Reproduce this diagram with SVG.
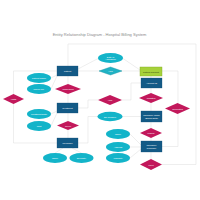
<svg xmlns="http://www.w3.org/2000/svg" width="200" height="200" viewBox="0 0 200 200">
<style>
.ent rect{fill:#135a86;stroke:#0e4a70;stroke-width:0.3}
.att ellipse{fill:#13b4c9}
.rel polygon{fill:#c2185b}
text{font-family:"Liberation Sans",Arial,sans-serif;font-size:2.3px;fill:#ffffff;text-anchor:middle;dominant-baseline:central}
.title{font-size:4px;fill:#8a8a8a}
.conn path{stroke:#e2e2e2;stroke-width:0.6;fill:none}
</style>
<rect width="200" height="200" fill="#ffffff"/>
<text class="title" x="99.5" y="34">Entity Relationship Diagram - Hospital Billing System</text>
<g class="conn">
<path d="M68,66 V44 H196 V164.5 H162"/>
<path d="M57,71 H13.5 V143 H57"/>
<path d="M78,71 H140"/>
<path d="M78,69 L98,58.5"/>
<path d="M123,58.5 L140,70"/>
<path d="M162,71 H178 V146.5 H162"/>
<path d="M151,76 V78 M151,88 V93 M151,103 V111 M151,122 V128 M151,138 V141 M151,152 V159"/>
<path d="M122,100 H131 V83 H141"/>
<path d="M78,108 H88 V100 H98"/>
<path d="M78,143 H88 V116.5 H141"/>
<path d="M68,76 V84 M68,94 V103 M68,113 V121 M68,130 V138"/>
<path d="M51,78 L57,75 M51,89 L57,76"/>
<path d="M51,114 L57,111 M51,126 L57,113"/>
<path d="M55,153 L63,148 M81.5,153 L72,148"/>
<path d="M130,134 L141,145 M130,147 H141 M130,158 L141,149"/>
</g>
<g id="patient" class="ent"><rect x="57" y="66" width="21" height="10"/><text x="67.5" y="71">Patient</text></g>
<g id="admission" class="att"><ellipse cx="110.5" cy="58" rx="12.5" ry="5"/><text x="110.5" y="56.8">Date of</text><text x="110.5" y="59.3">Admission</text></g>
<g id="has"><polygon points="99,71 110.5,67 122,71 110.5,75" fill="#20b2c4" stroke="#0e8fa0" stroke-width="0.4"/><text x="110.5" y="71">Has</text></g>
<g id="account"><rect x="140" y="67" width="22" height="9" fill="#a6d13a" stroke="#7fa81f" stroke-width="0.4"/><text x="151" y="71.5" style="fill:#2d3a10">Patient account</text></g>
<g id="invoice" class="ent"><rect x="141" y="78" width="21" height="10"/><text x="151.5" y="83">Account ID</text></g>
<g id="updates" class="rel"><polygon points="139,98 151,93 163,98 151,103"/><text x="151" y="98">Updates</text></g>
<g id="insurance" class="ent"><rect x="141" y="111" width="21" height="11"/><text x="151.5" y="115.3">Insurance Claim</text><text x="151.5" y="117.8">(Billing Data)</text></g>
<g id="make" class="rel"><polygon points="140,133 151,128 162,133 151,138"/><text x="151" y="133">Makes</text></g>
<g id="billing" class="ent"><rect x="141" y="141" width="21" height="11"/><text x="151.5" y="145.3">Insurance</text><text x="151.5" y="147.8">Company</text></g>
<g id="pay" class="rel"><polygon points="140,164.5 151,159 162,164.5 151,170"/><text x="151" y="164.5">Pays</text></g>
<g id="generate" class="rel"><polygon points="165,108.5 177.5,103 190,108.5 177.5,114"/><text x="177.5" y="108.5">Generates</text></g>
<g id="pname" class="att"><ellipse cx="39" cy="78" rx="12" ry="5"/><text x="39" y="78">Patient Name</text></g>
<g id="phone" class="att"><ellipse cx="39" cy="89" rx="12" ry="5"/><text x="39" y="89">Phone No.</text></g>
<g id="tdate" class="att"><ellipse cx="39" cy="114" rx="12" ry="5"/><text x="39" y="114">Treatment Date</text></g>
<g id="cost" class="att"><ellipse cx="39" cy="126" rx="12" ry="5"/><text x="39" y="126">Cost</text></g>
<g id="visit" class="rel"><polygon points="3,99 13.5,94 24,99 13.5,104"/><text x="13.5" y="99">Visits</text></g>
<g id="undergoes" class="rel"><polygon points="55,89 68,84 81,89 68,94"/><text x="68" y="89">Undergoes</text></g>
<g id="treatment" class="ent"><rect x="57" y="103" width="21" height="10"/><text x="67.5" y="108">Treatment</text></g>
<g id="has2" class="rel"><polygon points="98,100 110,95 122,100 110,105"/><text x="110" y="100">Has</text></g>
<g id="given" class="rel"><polygon points="57,125.5 68,121 79,125.5 68,130"/><text x="68" y="125.5">Given</text></g>
<g id="billno" class="att"><ellipse cx="110" cy="116.5" rx="12.5" ry="4.7"/><text x="110" y="116.5">Bill Number</text></g>
<g id="physician" class="ent"><rect x="57" y="138" width="21" height="10"/><text x="67.5" y="143">Physician</text></g>
<g id="dname" class="att"><ellipse cx="55" cy="158" rx="12" ry="5"/><text x="55" y="158">Name</text></g>
<g id="specialty" class="att"><ellipse cx="81.5" cy="158" rx="12" ry="5"/><text x="81.5" y="158">Specialty</text></g>
<g id="iname" class="att"><ellipse cx="118" cy="134" rx="12" ry="5"/><text x="118" y="134">Name</text></g>
<g id="address" class="att"><ellipse cx="118" cy="147" rx="12" ry="5"/><text x="118" y="147">Address</text></g>
<g id="warranty" class="att"><ellipse cx="118" cy="158" rx="12" ry="5"/><text x="118" y="158">Warranty</text></g>
</svg>
